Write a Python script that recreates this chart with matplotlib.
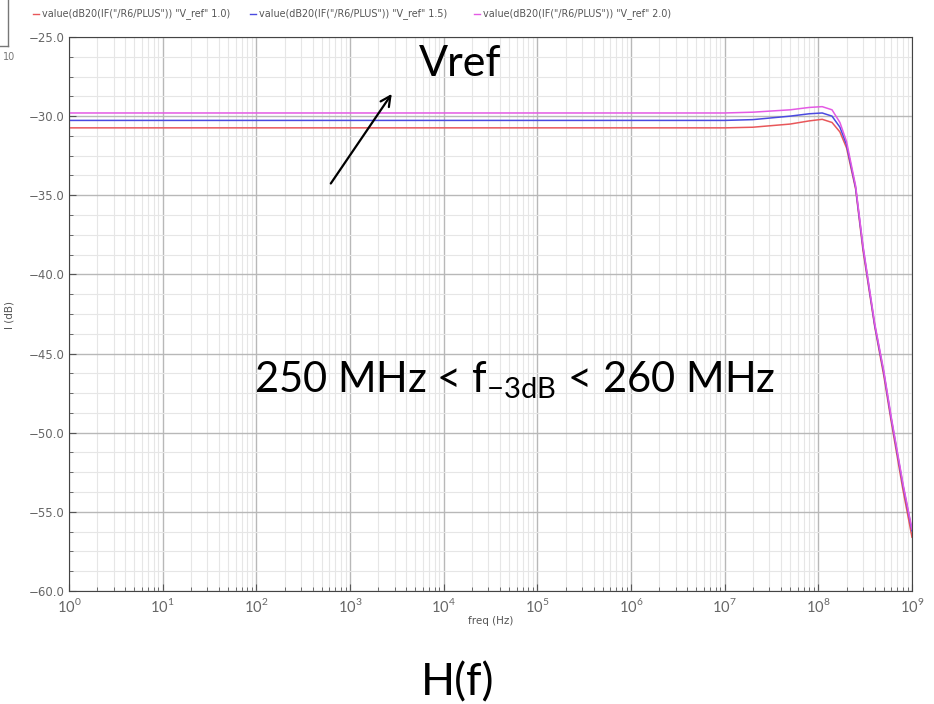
import numpy as np
import matplotlib
matplotlib.use("Agg")
import matplotlib.pyplot as plt
from matplotlib.ticker import AutoMinorLocator, LogLocator, FixedLocator
from matplotlib.lines import Line2D

plt.rcParams["mathtext.fontset"] = "custom"
plt.rcParams["mathtext.rm"] = "Lato"

freq = [1e0, 1e7, 2e7, 5e7, 8e7, 1.1e8, 1.4e8, 1.7e8, 2e8, 2.5e8, 3e8, 4e8, 5e8, 6e8, 8e8, 1e9]

# I (dB) for V_ref = 1.0, 1.5, 2.0
db_vref10 = [-30.74, -30.74, -30.70, -30.50, -30.30, -30.20, -30.40, -31.00, -32.00,
             -34.60, -38.50, -43.30, -46.40, -49.30, -53.60, -56.60]
db_vref15 = [-30.27, -30.27, -30.22, -30.00, -29.85, -29.80, -30.00, -30.70, -31.80,
             -34.50, -38.30, -43.20, -46.20, -49.10, -53.30, -56.20]
db_vref20 = [-29.80, -29.80, -29.75, -29.60, -29.45, -29.40, -29.60, -30.40, -31.60,
             -34.40, -38.20, -43.10, -46.10, -49.00, -53.20, -56.10]

labels = ['value(dB20(IF("/R6/PLUS")) "V_ref" 1.0)',
          'value(dB20(IF("/R6/PLUS")) "V_ref" 1.5)',
          'value(dB20(IF("/R6/PLUS")) "V_ref" 2.0)']
colors = ["#e8575a", "#4a4ae0", "#e45ae4"]

W, H = 934, 704
fig = plt.figure(figsize=(W / 100, H / 100), dpi=100)
ax = fig.add_axes([69 / W, 1 - 591 / H, (912 - 69) / W, (591 - 37) / H])

for y, c in zip([db_vref10, db_vref15, db_vref20], colors):
    ax.plot(freq, y, color=c, lw=1.1)

ax.set_xscale("log")
ax.set_xlim(1, 1e9)
ax.set_ylim(-60, -25)
ax.set_yticks(np.arange(-60, -24, 5))
ax.set_yticklabels([f"{v:.1f}".replace("-", "\u2212") for v in np.arange(-60, -24, 5)])
ax.yaxis.set_minor_locator(AutoMinorLocator(4))
ax.xaxis.set_major_locator(FixedLocator([10.0 ** k for k in range(10)]))
ax.set_xticklabels([f"$10^{{{k}}}$" for k in range(10)])
ax.xaxis.set_minor_locator(LogLocator(base=10, subs=np.arange(2, 10), numticks=100))

ax.grid(True, which="major", color="#b8b8b8", lw=1.0)
ax.grid(True, which="minor", color="#e6e6e6", lw=0.8)
ax.set_axisbelow(True)
ax.tick_params(which="both", direction="in", colors="#555555", labelcolor="#666666", labelsize=8.5)
ax.tick_params(axis="x", which="major", labelsize=10.5, pad=4)
ax.tick_params(which="major", length=5)
ax.tick_params(which="minor", length=3)
for side in ["top", "right", "left", "bottom"]:
    ax.spines[side].set_color("#444444")

ax.set_xlabel("freq (Hz)", fontsize=7.5, color="#555555", labelpad=1)
fig.text(9 / W, 1 - 315 / H, "I (dB)", rotation=90, fontsize=7.5, color="#555555",
         ha="center", va="center")

# legend line on top
xs = [33, 250, 474]
for x0, lab, c in zip(xs, labels, colors):
    fig.add_artist(Line2D([x0 / W, (x0 + 6) / W], [1 - 14 / H] * 2, color=c, lw=1))
    fig.text((x0 + 9) / W, 1 - 14 / H, lab, fontsize=6.9, color="#555555", va="center")

# remnant of neighbouring plot at top-left
fig.add_artist(Line2D([8 / W, 8 / W], [1, 1 - 46 / H], color="#777777", lw=1))
fig.add_artist(Line2D([0, 8 / W], [1 - 46 / H] * 2, color="#777777", lw=1))
fig.text(3 / W, 1 - 57 / H, "10", fontsize=7, color="#777777", va="center")

# annotations
fig.text(460 / W, 1 - 64 / H, "Vref", fontsize=31, family="Lato", ha="center", va="center")
ax.annotate("", xy=(2.9e3, -28.45), xytext=(6e2, -34.4),
            arrowprops=dict(arrowstyle="->", lw=1.6, color="black", mutation_scale=18))
fig.text(515 / W, 1 - 380 / H, r"250 MHz < f$_{\mathregular{-3dB}}$ < 260 MHz",
         fontsize=30, family="Lato", ha="center", va="center")
fig.text(458 / W, 1 - 683 / H, "H(f)", fontsize=32, family="Lato", ha="center", va="center")

fig.savefig("out.png", dpi=100)
